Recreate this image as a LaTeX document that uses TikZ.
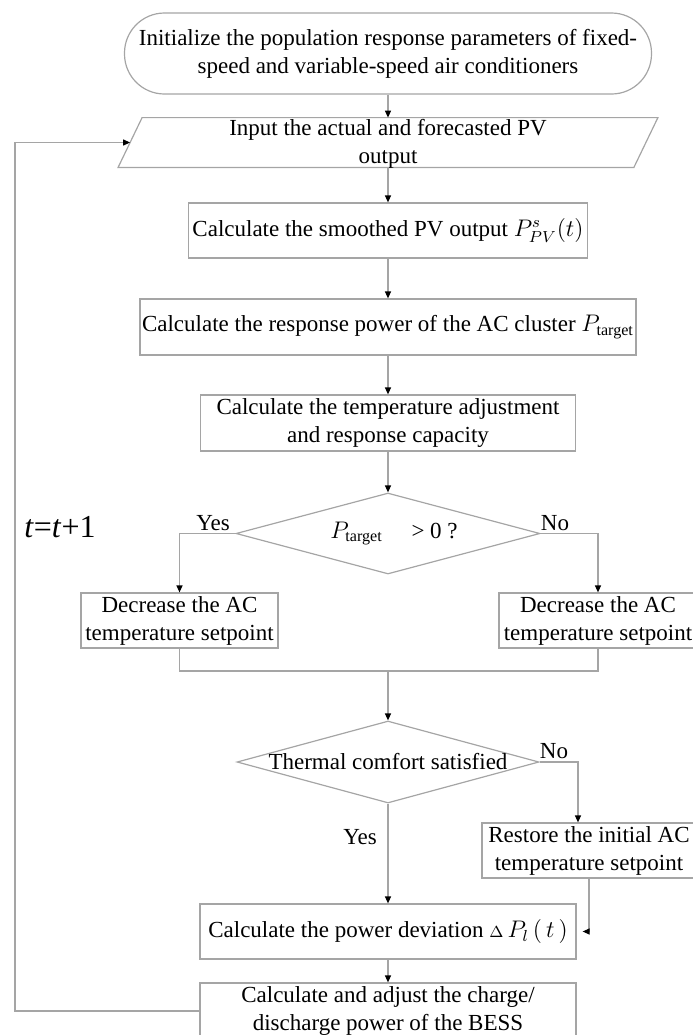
\documentclass[tikz,border=0pt]{standalone}
\usepackage{amsmath}
\usepackage{fontspec}
\setmainfont{Liberation Serif}
\usetikzlibrary{shapes.geometric}
\usetikzlibrary{arrows.meta}
\usetikzlibrary{calc}
\definecolor{linegray}{RGB}{165,165,165}
\tikzset{
	base/.style={font=\fontsize{11.5}{14}\selectfont, inner sep=0pt, align=center},
	box/.style={base, rectangle, draw=linegray, line width=0.6pt},
	term/.style={box, rounded corners=20pt},
	decision/.style={base, diamond, shape aspect=3.7, draw=linegray, line width=0.6pt},
	conn/.style={draw=linegray, line width=0.6pt},
	arr/.style={conn, -{Triangle[color=black, length=3.5pt, width=3pt]}},
}

\begin{document}
\begin{tikzpicture}[x=0.5pt, y=-0.5pt]
		\newcommand{\midx}{388}
		\useasboundingbox (0, 0) rectangle (692, 1035);
		
		\node[term, minimum width=263.5pt, minimum height=40.5pt] (init) at (\midx, 53.5) {Initialize the population response parameters of fixed-\\speed and variable-speed air conditioners};
		
		\node[base, minimum width=257.5pt, minimum height=24.5pt] (input) at (\midx, 142.5) {};
		\draw[conn] ($(input.south west)+(-12, 0)$) -- ($(input.north west)+(12, 0)$) -- ($(input.north east)+(12, 0)$) -- ($(input.south east)+(-12, 0)$) -- cycle;
		\node[base] (inputtxt) at (\midx, 144) {Input the actual and forecasted PV\\output};
		
		\node[box, minimum width=199.5pt, minimum height=27.5pt] (smooth) at (\midx, 230.5) {Calculate the smoothed PV output $P_{PV}^{s}(t)$};
		\node[box, minimum width=248pt, minimum height=28pt] (resp) at (\midx, 327) {Calculate the response power of the AC cluster $P_{\text{target}}$};
		\node[box, minimum width=187.5pt, minimum height=28pt] (temp) at (\midx, 423) {Calculate the temperature adjustment\\and response capacity};
		
		\node[decision, minimum width=152pt, minimum height=40.5pt] (sign) at (\midx, 533.5) {\hspace*{6pt}$P_{\text{target}}$\quad\ > 0 ?};
		\node[base] (yes1) at (213, 523) {Yes};
		\node[base] (no1) at (555, 523) {No};
		\node[base, font=\fontsize{16}{18}\selectfont] (tinc) at (60, 527) {\textit{t}=\textit{t}+1};
		
		\node[box, minimum width=98.5pt, minimum height=27.5pt] (decL) at (179.5, 620.5) {Decrease the AC\\temperature setpoint};
		\node[box, minimum width=99pt, minimum height=27.5pt] (decR) at (598, 620.5) {Decrease the AC\\temperature setpoint};
		\coordinate (join) at (\midx, 671);
		
		\node[decision, minimum width=151pt, minimum height=41pt] (comf) at (\midx, 762) {};
		\node[base] (comftxt) at (\midx, 762) {Thermal comfort satisfied};
		\node[base] (no2) at (554, 751) {No};
		\node[base] (yes2) at (360, 837) {Yes};
		
		\node[box, minimum width=107pt, minimum height=27.5pt] (rest) at (589, 850.5) {Restore the initial AC\\temperature setpoint};
		\node[box, minimum width=188pt, minimum height=27.5pt] (dev) at (\midx, 931.5) {Calculate the power deviation ${\scriptstyle\Delta}\,P_{l}\,(\,t\,)$};
		\node[box, minimum width=188pt, minimum height=28pt] (bess) at (\midx, 1011) {Calculate and adjust the charge/\\discharge power of the BESS};
		\coordinate (loop) at (15, 142.5);
		
		\draw[arr] (init) to (input);
		\draw[arr] (input) to (smooth);
		\draw[arr] (smooth) to (resp);
		\draw[arr] (resp) to (temp);
		\draw[arr] (temp) to (sign);
		\draw[arr] (sign.west) -| (decL.north);
		\draw[arr] (sign.east) -| (decR.north);
		\draw[conn] (decL) |- (join) -| (decR);
		\draw[arr] (join) to (comf);
		\draw[arr] (comf.east) -| ([xshift=-5.5pt]rest.north);
		\draw[arr] (comf) to (dev);
		\draw[arr, shorten >=3pt] (rest) |- (dev);
		\draw[arr] (dev) to (bess);
		\draw[arr] (bess.west) -| (loop) -- (input.west);
	\end{tikzpicture}
\end{document}
